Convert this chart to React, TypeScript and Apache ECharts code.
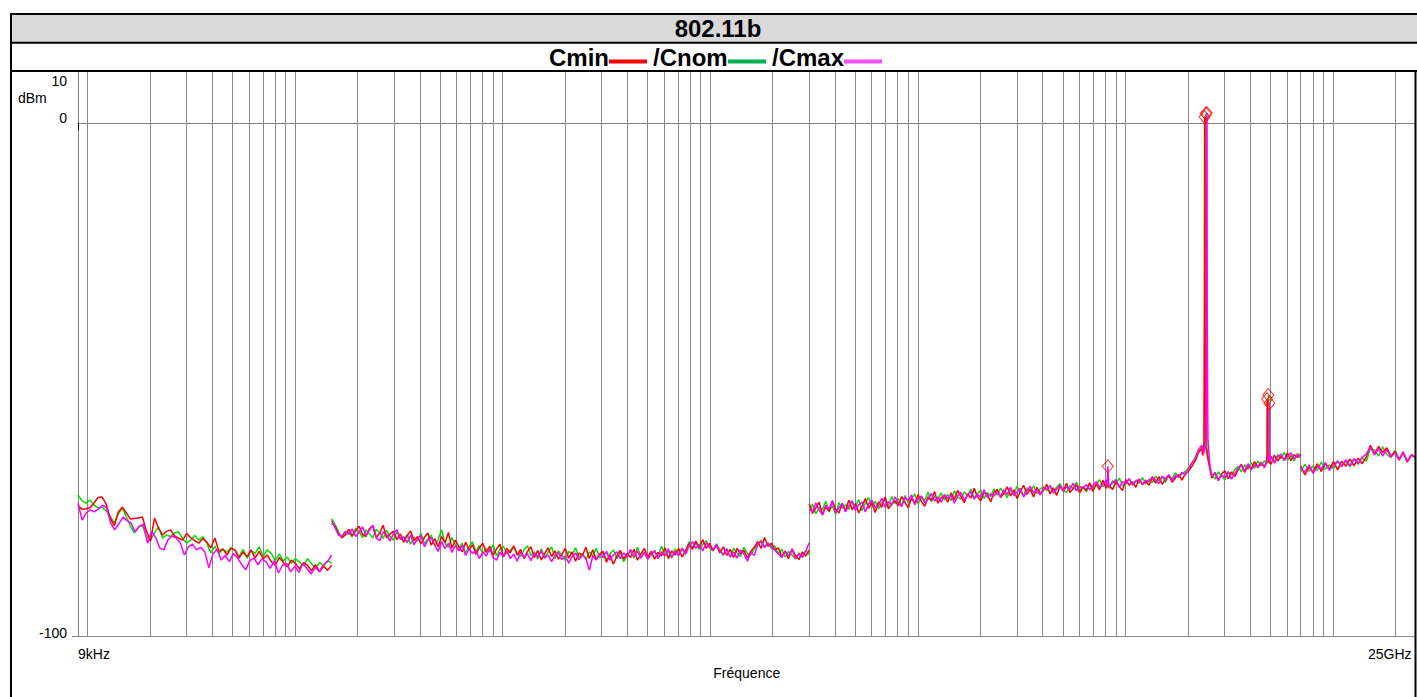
import React, { useEffect, useRef } from "react";
import * as echarts from "echarts";

// ---------- texts ----------
const TITLE = "802.11b";
const X_NAME = "Fréquence";
const Y_UNIT = "dBm";
const SERIES_NAMES = ["Cmin", "Cnom", "Cmax"];
const LEGEND_TEXTS = ["Cmin", "/Cnom", "/Cmax"];
const TRACE_COLORS = ["#ff0000", "#00e000", "#ff00ff"];
const LEGEND_COLORS = ["#ff0000", "#00b050", "#f050f0"];

// ---------- axes ----------
const X_MIN = 9e3;
const X_MAX = 2.5e10;
const Y_MIN = -100;
const Y_MAX = 10;
const Y_STEP = 10;
const Y_LABELS = [10, 0, -100];
const X_LABEL_MIN = "9kHz";
const X_LABEL_MAX = "25GHz";
const GRID_DECADES = [1e4, 1e5, 1e6, 1e7, 1e8, 1e9, 1e10];
const GRID_MULTS = [1, 2, 3, 4, 5, 6, 7, 8, 9];

// ---------- sweep segments (Hz) ----------
const SEGMENTS = [
  [9e3, 1.5e5],
  [1.5e5, 3e7],
  [3e7, 7e9],
  [7e9, 2.5e10],
];
const PEAK_WINDOWS = [
  [8.1e8, 8.4e8],
  [2.35e9, 2.56e9],
  [4.76e9, 5.0e9],
];

// ---------- Cmin (red) ----------
const cminS1 = [-74.5, -75.3, -75.2, -75.0, -74.0, -73.0, -72.9, -74.3, -77.0, -78.5, -75.8, -74.9, -76.0, -77.2, -77.1, -77.0, -76.8, -79.5, -81.5, -77.0, -79.0, -80.3, -79.6, -79.3, -80.5, -80.9, -81.3, -80.0, -80.8, -81.4, -81.9, -81.0, -81.7, -82.8, -80.9, -83.5, -83.0, -84.2, -82.9, -83.2, -84.8, -83.6, -84.5, -83.2, -84.8, -83.5, -84.9, -84.2, -85.5, -86.2, -84.7, -85.6, -86.5, -85.2, -85.8, -86.9, -85.7, -86.2, -87.3, -86.1, -87.5, -86.4, -87.2, -86.2];
const cminS2 = [-78.0, -78.6, -80.1, -80.8, -80.3,
  -79.2, -80.4, -79.5, -78.6, -80.2, -80.6, -79.1, -78.5, -80.8, -79.9, -78.4, -80.9, -80.1, -79.6, -81.2,
  -80.1, -81.7, -80.4, -79.5, -81.4, -80.6, -82.0, -80.8, -79.9, -82.3, -81.0, -82.6, -80.6, -81.8, -79.8, -82.9, -81.3,
  -82.5, -83.6, -81.7, -83.2, -82.2, -84.1, -82.8, -81.9, -83.7, -82.5, -84.3, -83.0, -82.1, -84.6, -82.9, -83.8, -82.4, -84.2,
  -83.1, -84.9, -83.5, -82.6, -84.7, -83.3, -85.2, -83.9, -82.8, -84.5, -83.4, -85.0, -84.1, -82.9, -84.8, -83.6, -85.4, -83.8, -84.3, -82.7, -84.9, -83.2, -85.1, -84.0, -83.5, -85.6, -84.2, -86.0, -84.4, -83.3, -85.0, -83.9, -84.7, -83.1, -85.2, -84.0, -82.9, -84.6, -83.5, -85.0, -83.7, -84.4, -82.8, -84.9, -83.4, -84.2, -82.9, -84.6, -83.3,
  -82.0, -83.1, -81.5, -82.8, -81.2, -82.9, -81.9, -83.3, -82.4,
  -83.8, -82.6, -84.3, -83.1, -84.7, -82.9, -84.0, -83.3, -84.8, -83.5, -82.7,
  -81.6, -82.9, -80.8, -82.5, -81.9, -83.2,
  -82.8, -84.5, -83.4, -84.9, -83.0, -84.3, -85.1, -83.6, -84.4, -83.2];
const cminS3 = [-74.2, -76.1, -75.0, -73.9, -76.4, -74.8, -75.7, -73.6, -75.3, -76.0, -74.1, -75.6,
  -73.5, -75.4, -74.2, -76.0, -74.7, -73.2, -75.1, -74.0, -75.9, -73.8, -74.9, -72.9, -75.2, -74.3, -73.6,
  -74.6, -72.8, -73.9, -75.0, -73.1, -74.2, -72.4, -73.8, -74.7, -72.9, -73.5, -71.8, -74.1, -73.0, -72.6,
  -73.9, -72.1, -73.4, -71.6, -72.8, -74.0, -72.3, -73.1, -71.2, -72.9, -73.6, -71.9, -72.5, -73.8, -72.0,
  -71.4, -73.0, -72.2, -70.9, -72.7, -71.5, -73.2, -71.8, -70.6, -72.4, -71.3, -72.9, -71.0, -72.2, -71.6,
  -70.4, -72.3, -71.1, -72.6, -70.8, -71.7, -70.2, -72.0, -71.3, -70.5, -72.1, -70.9, -71.6, -70.1, -71.8,
  -70.3, -71.5, -69.6, -71.2, -70.0, -71.4, -69.8, -70.9, -71.6, -69.5, -70.6, -69.9, -71.0, -69.4, -70.5, -69.8,
  -70.6, -69.1, -70.2, -68.9, -70.4, -69.5, -68.7, -70.0, -69.2, -68.5, -69.6, -68.3,
  -67.8, -66.9, -65.9, -64.2,
  -63.5, -64.0, -66.5,
  -69.2, -68.1, -69.7, -68.4, -67.8, -69.3, -68.0, -68.9,
  -67.6, -66.5, -68.1, -66.8, -67.4, -66.0, -67.2, -66.3, -66.9,
  -65.4, -66.5, -64.7, -65.9, -64.9, -65.6, -64.3, -65.8, -64.6, -65.2, -64.5];
const cminS4 = [-66.8, -68.6, -67.0, -68.1, -66.4, -67.9, -66.3, -67.4, -66.0, -67.6, -65.9, -66.9, -65.5, -66.8, -65.3, -66.4, -65.0, -62.8, -64.5, -63.0, -64.2, -63.3, -64.9, -64.0, -65.7, -64.1, -66.1, -64.6, -65.3];
const cminPeaks = [
  [8.15e8, -71.0], [8.235e8, -68.5], [8.3e8, -70.6],
  [2.36e9, -64.8], [2.39e9, -62.5], [2.405e9, -32.5], [2.41e9, 1.2], [2.415e9, 0.6], [2.42e9, -45], [2.44e9, -63.0], [2.5e9, -65.5],
  [4.77e9, -66.2], [4.815e9, -64.9], [4.821e9, -53.8], [4.828e9, -54.2], [4.835e9, -65.3], [4.9e9, -66.0],
];

// ---------- Cnom (green) ----------
const cnomS1 = [-72.5, -73.6, -74.1, -73.5, -74.5, -75.0, -74.9, -75.6, -76.6, -78.0, -76.2, -75.0, -76.8, -78.5, -79.9, -78.7, -78.5, -80.6, -81.3, -79.9, -78.7, -80.9, -80.3, -80.6, -79.9, -79.7, -81.0, -81.9, -81.3, -80.4, -81.3, -80.6, -81.9, -83.8, -82.5, -84.0, -83.1, -83.6, -82.8, -83.3, -84.5, -83.1, -84.8, -83.4, -83.9, -82.6, -84.4, -83.2, -83.9, -85.3, -84.0, -85.4, -84.6, -85.8, -84.9, -85.6, -86.3, -84.9, -85.9, -86.8, -85.6, -86.4, -85.3, -85.8];
const cnomS2 = [-77.1, -78.2, -79.6, -80.9, -80.0,
  -79.8, -80.7, -79.0, -79.6, -80.8, -79.3, -80.1, -80.9, -79.2, -79.9, -81.0, -79.4, -80.6, -81.3, -79.7,
  -80.9, -81.6, -80.2, -82.1, -80.7, -81.5, -79.9, -82.0, -81.1, -80.3, -82.4, -81.2, -79.3, -81.9, -82.7, -80.8, -82.2,
  -83.0, -81.9, -83.8, -82.6, -81.6, -83.5, -82.4, -84.0, -82.9, -83.6, -82.2, -84.4, -83.1, -82.5, -84.0, -83.3, -82.6, -83.9,
  -84.5, -83.2, -82.4, -84.3, -83.6, -85.0, -83.0, -84.6, -83.7, -82.6, -84.9, -83.4, -84.2, -85.3, -83.5, -84.1, -82.8, -84.7, -83.9, -85.1, -83.6, -84.4, -82.9, -84.8, -83.8, -85.2, -84.0, -83.2, -84.9, -83.7, -85.5, -84.3, -83.4, -84.8, -82.7, -84.5, -83.6, -85.0, -84.1, -83.3, -84.7, -82.5, -84.1, -83.5, -84.8, -83.0, -84.3, -82.8, -84.0,
  -81.6, -82.7, -81.9, -83.1, -82.2, -81.4, -82.8, -83.4, -82.0,
  -83.2, -84.3, -83.0, -84.6, -82.9, -83.8, -84.5, -82.7, -83.9, -84.2, -83.0,
  -82.1, -81.3, -82.6, -81.8, -83.0, -82.4,
  -84.0, -83.1, -84.6, -83.5, -84.2, -85.0, -83.8, -84.7, -83.3, -84.1];
const cnomS3 = [-75.6, -74.3, -76.2, -74.9, -75.4, -73.7, -75.8, -74.6, -76.3, -74.0, -75.1, -74.4,
  -75.3, -73.9, -74.8, -73.4, -75.6, -74.1, -73.0, -74.9, -73.7, -75.2, -74.0, -73.3, -74.7, -72.8, -74.2,
  -73.2, -74.5, -72.6, -74.0, -73.4, -72.3, -74.3, -72.9, -73.6, -71.9, -73.8, -72.7, -73.3, -72.1, -73.5,
  -72.4, -73.6, -71.7, -72.9, -73.3, -71.9, -72.6, -71.4, -73.0, -72.2, -71.6, -73.2, -72.0, -72.8, -71.3,
  -72.6, -71.2, -72.0, -73.0, -71.4, -72.3, -70.8, -71.9, -72.5, -71.1, -71.8, -70.7, -72.2, -71.3, -70.9,
  -71.7, -70.6, -71.9, -71.0, -70.3, -71.5, -72.0, -70.7, -71.2, -70.0, -71.6, -70.8, -71.9, -70.4, -71.1,
  -70.6, -69.5, -70.9, -70.2, -71.3, -69.7, -70.4, -69.2, -70.8, -70.0, -69.4, -70.6, -69.6, -70.2, -69.1, -70.3,
  -69.4, -70.1, -68.8, -69.7, -69.0, -70.0, -68.6, -69.3, -68.2, -69.1, -68.4, -67.9,
  -67.2, -66.3, -65.1, -63.9,
  -63.2, -64.6, -67.0,
  -68.5, -69.4, -68.0, -68.9, -69.5, -67.9, -68.6, -67.6,
  -66.9, -68.0, -66.6, -67.5, -66.2, -67.3, -65.9, -66.8, -65.8,
  -66.2, -65.0, -66.0, -64.6, -65.4, -64.2, -65.7, -64.8, -65.9, -64.4, -65.4];
const cnomS4 = [-68.0, -66.5, -67.9, -66.8, -67.7, -66.1, -67.5, -66.6, -67.3, -65.8, -66.8, -65.9, -67.0, -65.6, -66.5, -65.2, -65.9, -63.5, -63.7, -64.9, -63.1, -64.6, -65.2, -63.8, -65.4, -64.4, -66.0, -64.8, -65.0];
const cnomPeaks = [
  [8.16e8, -70.4], [8.24e8, -69.8], [8.32e8, -71.2],
  [2.37e9, -64.0], [2.42e9, -62.0], [2.435e9, -40], [2.44e9, 1.9], [2.445e9, 1.2], [2.45e9, -48], [2.47e9, -63.2], [2.53e9, -66.2],
  [4.8e9, -66.4], [4.876e9, -65.0], [4.881e9, -53.0], [4.888e9, -53.4], [4.895e9, -65.6], [4.97e9, -66.3],
];

// ---------- Cmax (magenta) ----------
const cmaxS1 = [-74.1, -77.4, -76.0, -75.4, -75.8, -75.2, -74.5, -75.0, -78.0, -79.3, -78.1, -76.8, -77.5, -78.0, -79.7, -78.6, -78.2, -81.9, -79.6, -80.8, -82.9, -83.2, -81.2, -80.5, -80.9, -81.8, -84.2, -82.6, -82.1, -83.2, -82.7, -83.6, -86.7, -84.0, -83.1, -85.2, -84.3, -85.5, -83.9, -84.8, -86.0, -87.1, -85.3, -84.8, -86.1, -84.9, -85.6, -86.8, -85.3, -87.7, -86.2, -85.9, -87.5, -86.4, -87.6, -85.8, -86.9, -87.9, -86.6, -87.4, -86.1, -85.5, -84.2];
const cmaxS2 = [-77.5, -78.9, -80.3, -80.5, -79.6,
  -80.2, -79.1, -80.6, -79.8, -78.7, -80.4, -79.4, -78.4, -80.9, -81.4, -79.7, -80.2, -81.5, -80.0, -79.3,
  -81.2, -80.6, -81.8, -80.3, -82.2, -81.0, -80.4, -82.6, -81.3, -80.8, -82.3, -83.5, -81.6, -82.9, -81.9, -83.7, -82.4,
  -83.4, -82.3, -84.3, -83.0, -83.9, -83.3, -84.9, -83.6, -84.4, -82.9, -84.7, -85.2, -83.7, -84.5, -83.4, -84.9, -84.0, -85.4,
  -83.6, -84.7, -84.0, -85.3, -83.8, -84.6, -83.4, -84.8, -84.2, -85.5, -84.3, -83.7, -85.1, -84.4, -85.8, -84.5, -83.8, -85.1, -84.2, -84.9, -87.2, -84.4, -85.2, -83.9, -84.7, -83.5, -85.2, -84.2, -83.6, -84.9, -83.8, -84.6, -83.1, -84.5, -83.4, -84.8, -83.7, -85.0, -84.1, -83.4, -84.9, -83.6, -84.4, -83.0, -84.6, -83.5, -84.3, -82.9, -84.1,
  -82.5, -81.6, -82.9, -82.1, -83.4, -81.8, -82.7, -83.1, -82.2,
  -83.4, -84.1, -83.0, -84.6, -83.6, -84.8, -83.2, -84.0, -85.4, -83.7, -84.3,
  -82.2, -81.5, -82.8, -81.9, -82.6, -83.3,
  -83.9, -84.7, -83.5, -84.4, -83.1, -84.9, -84.0, -84.6, -83.4, -81.8];
const cmaxS3 = [-75.1, -75.9, -74.0, -75.5, -76.3, -74.5, -75.2, -73.8, -76.0, -75.0, -74.2, -75.8,
  -74.6, -73.6, -75.5, -74.4, -73.9, -75.8, -74.2, -73.5, -75.0, -74.6, -73.1, -74.9, -73.8, -74.4, -72.9,
  -73.9, -74.8, -73.0, -73.6, -72.5, -74.4, -73.2, -72.7, -74.0, -73.4, -72.2, -73.7, -72.9, -73.9, -72.4,
  -73.2, -72.5, -74.1, -72.7, -72.0, -73.5, -72.6, -71.8, -73.3, -72.4, -72.9, -71.5, -73.0, -72.3, -72.7,
  -71.8, -72.8, -71.5, -72.4, -71.0, -72.6, -71.9, -71.2, -72.9, -71.7, -70.8, -72.1, -71.4, -72.5, -71.1,
  -71.3, -70.7, -72.1, -71.4, -70.6, -71.8, -70.9, -71.4, -70.2, -71.7, -70.8, -71.2, -70.5, -71.5, -70.6,
  -69.9, -71.0, -70.4, -69.6, -70.8, -70.1, -69.5, -71.0, -69.9, -70.3, -69.3, -70.5, -69.8, -69.4, -70.4, -69.6,
  -69.9, -68.9, -69.6, -70.3, -68.8, -69.4, -68.5, -69.8, -68.7, -69.0, -68.1, -68.6,
  -67.5, -66.2, -65.5, -63.6,
  -62.8, -64.3, -66.8,
  -68.9, -68.2, -69.6, -68.6, -69.1, -68.0, -69.4, -68.3,
  -67.3, -66.7, -67.8, -66.4, -67.6, -66.6, -67.0, -66.1, -67.2,
  -65.7, -64.9, -66.3, -65.1, -64.5, -65.8, -64.9, -64.3, -65.5, -64.7, -65.0];
const cmaxS4 = [-67.2, -68.1, -66.6, -68.3, -66.9, -67.4, -66.2, -67.7, -66.7, -65.9, -67.0, -65.6, -66.8, -65.4, -66.3, -65.1, -64.5, -63.2, -64.7, -63.4, -64.9, -63.7, -65.1, -64.3, -65.6, -64.1, -65.9, -64.7, -65.0];
const cmaxPeaks = [
  [8.17e8, -70.9], [8.237e8, -66.9], [8.31e8, -70.8],
  [2.38e9, -64.5], [2.45e9, -62.3], [2.465e9, -38], [2.47e9, 2.0], [2.476e9, 1.0], [2.482e9, -42], [2.5e9, -61.5], [2.55e9, -66.5],
  [4.83e9, -65.8], [4.935e9, -64.7], [4.941e9, -54.6], [4.948e9, -54.9], [4.955e9, -65.0], [4.99e9, -65.9],
];

// ---------- peak markers ----------
const MARKER_FREQS = [2.41e9, 2.44e9, 2.47e9, 4.821e9, 4.881e9, 4.941e9, 8.237e8];
const MARKER_LEVELS = [1.2, 1.9, 2.0, -53.8, -53.0, -54.6, -66.9];

function buildTrace(segs: number[][], peaks: number[][]) {
  const out: any[] = [];
  SEGMENTS.forEach(([lo, hi], k) => {
    const vals = segs[k];
    const n = vals.length;
    let pts: any[] = vals.map((v, i) => [lo * Math.pow(hi / lo, i / (n - 1)), v]);
    pts = pts.filter(([f]) => !PEAK_WINDOWS.some(([a, b]) => f >= a && f <= b));
    peaks.forEach((p) => {
      if (p[0] > lo && p[0] < hi) pts.push(p);
    });
    pts.sort((a, b) => a[0] - b[0]);
    if (k > 0) out.push([lo, "-"]);
    out.push(...pts);
  });
  return out;
}

export default function App() {
  const ref = useRef<HTMLDivElement>(null);

  useEffect(() => {
    if (!ref.current) return;
    const chart = echarts.init(ref.current, null, { renderer: "svg" });

    const traces = [
      buildTrace([cminS1, cminS2, cminS3, cminS4], cminPeaks),
      buildTrace([cnomS1, cnomS2, cnomS3, cnomS4], cnomPeaks),
      buildTrace([cmaxS1, cmaxS2, cmaxS3, cmaxS4], cmaxPeaks),
    ];
    const drawOrder = [1, 0, 2];

    const gridFreqs: number[] = [];
    GRID_DECADES.forEach((d) =>
      GRID_MULTS.forEach((m) => {
        if (d * m < X_MAX) gridFreqs.push(d * m);
      })
    );

    const font = '"Liberation Sans", Arial, sans-serif';
    const legendX = [549, 653, 772];
    const legendLineX = [609, 728, 844];

    const graphics: any[] = [
      { type: "rect", shape: { x: 11, y: 14, width: 1406, height: 28 }, style: { fill: "#d9d9d9" }, z: 0 },
      { type: "line", shape: { x1: 10, y1: 14, x2: 1417, y2: 14 }, style: { stroke: "#000", lineWidth: 2 }, z: 10 },
      { type: "line", shape: { x1: 10, y1: 42.7, x2: 1417, y2: 42.7 }, style: { stroke: "#000", lineWidth: 2 }, z: 10 },
      { type: "line", shape: { x1: 10, y1: 71, x2: 1417, y2: 71 }, style: { stroke: "#000", lineWidth: 2 }, z: 10 },
      { type: "line", shape: { x1: 11, y1: 13, x2: 11, y2: 697 }, style: { stroke: "#000", lineWidth: 2 }, z: 10 },
      { type: "line", shape: { x1: 1415.5, y1: 71, x2: 1415.5, y2: 697 }, style: { stroke: "#000", lineWidth: 2 }, z: 10 },
      {
        type: "text", x: 718, y: 28, z: 10,
        style: { text: TITLE, font: `bold 24px ${font}`, fill: "#000", align: "center", verticalAlign: "middle", textAlign: "center", textVerticalAlign: "middle" },
      },
      {
        type: "text", x: 18, y: 98, z: 10,
        style: { text: Y_UNIT, font: `14px ${font}`, fill: "#000", align: "left", verticalAlign: "middle", textAlign: "left", textVerticalAlign: "middle" },
      },
    ];
    LEGEND_TEXTS.forEach((t, i) => {
      graphics.push({
        type: "text", x: legendX[i], y: 57, z: 10,
        style: { text: t, font: `bold 24px ${font}`, fill: "#000", align: "left", verticalAlign: "middle", textAlign: "left", textVerticalAlign: "middle" },
      });
      graphics.push({
        type: "rect", z: 10,
        shape: { x: legendLineX[i], y: 59.5, width: 38, height: 4 },
        style: { fill: LEGEND_COLORS[i] },
      });
    });

    const series: any[] = [
      {
        type: "line",
        name: "grid",
        data: [],
        silent: true,
        markLine: {
          silent: true,
          z: 1,
          symbol: ["none", "none"],
          label: { show: false },
          lineStyle: { color: "#8a8a8a", width: 1, type: "solid" },
          emphasis: { disabled: true },
          data: gridFreqs.map((f) => ({ xAxis: f })),
        },
      },
    ];
    drawOrder.forEach((k, j) => {
      series.push({
        type: "line",
        name: SERIES_NAMES[k],
        data: traces[k],
        showSymbol: false,
        symbol: "none",
        connectNulls: false,
        z: 3 + j,
        lineStyle: { color: TRACE_COLORS[k], width: 1.5 },
        itemStyle: { color: TRACE_COLORS[k] },
      });
    });
    series.push({
      type: "scatter",
      name: "markers",
      z: 10,
      symbol: "diamond",
      symbolSize: [11, 13],
      itemStyle: { color: "rgba(255,255,255,0)", borderColor: "#ff0000", borderWidth: 1 },
      data: MARKER_FREQS.map((f, i) => [f, MARKER_LEVELS[i]]),
    });

    chart.setOption({
      animation: false,
      backgroundColor: "#ffffff",
      textStyle: { fontFamily: font },
      grid: { left: 78, right: 1.5, top: 72, bottom: 61, containLabel: false },
      graphic: { elements: graphics },
      xAxis: {
        type: "log",
        logBase: 10,
        min: X_MIN,
        max: X_MAX,
        name: X_NAME,
        nameLocation: "middle",
        nameGap: 27,
        nameTextStyle: { fontSize: 14, color: "#000", fontFamily: font },
        axisLine: { show: true, lineStyle: { color: "#808080", width: 1 } },
        axisTick: { show: true, length: 7, customValues: [X_MIN, X_MAX], lineStyle: { color: "#000" } },
        splitLine: { show: false },
        minorTick: { show: false },
        axisLabel: {
          show: true,
          showMinLabel: true,
          showMaxLabel: true,
          alignMinLabel: "left",
          alignMaxLabel: "right",
          margin: 11,
          fontSize: 14,
          color: "#000",
          fontFamily: font,
          formatter: (v: number) => (v <= X_MIN * 1.001 ? `{l|${X_LABEL_MIN}}` : v >= X_MAX * 0.999 ? `{r|${X_LABEL_MAX}}` : ""),
          rich: {
            l: { fontSize: 14, color: "#000", fontFamily: font },
            r: { fontSize: 14, color: "#000", fontFamily: font, padding: [0, 4, 0, 0] },
          },
        },
      },
      yAxis: {
        type: "value",
        min: Y_MIN,
        max: Y_MAX,
        interval: Y_STEP,
        axisLine: { show: true, lineStyle: { color: "#808080", width: 1 } },
        axisTick: { show: true, length: 6, customValues: [Y_MIN], lineStyle: { color: "#808080" } },
        splitLine: { show: true, lineStyle: { color: "#8a8a8a", width: 1 } },
        axisLabel: {
          margin: 11,
          fontSize: 14,
          color: "#000",
          fontFamily: font,
          formatter: (v: number) => {
            if (!Y_LABELS.includes(v)) return "";
            if (v === Y_MAX) return `{t|${v}}`;
            if (v === Y_MIN) return `{b|${v}}`;
            return `{z|${v}}`;
          },
          rich: {
            t: { fontSize: 14, color: "#000", fontFamily: font, padding: [18, 0, 0, 0] },
            z: { fontSize: 14, color: "#000", fontFamily: font, padding: [0, 0, 10, 0] },
            b: { fontSize: 14, color: "#000", fontFamily: font, padding: [0, 0, 6, 0] },
          },
        },
      },
      series,
    });

    return () => {
      chart.dispose();
    };
  }, []);

  return (
    <div
      ref={ref}
      style={{ position: "absolute", left: 0, top: 0, width: 1417, height: 697, background: "#fff" }}
    />
  );
}
